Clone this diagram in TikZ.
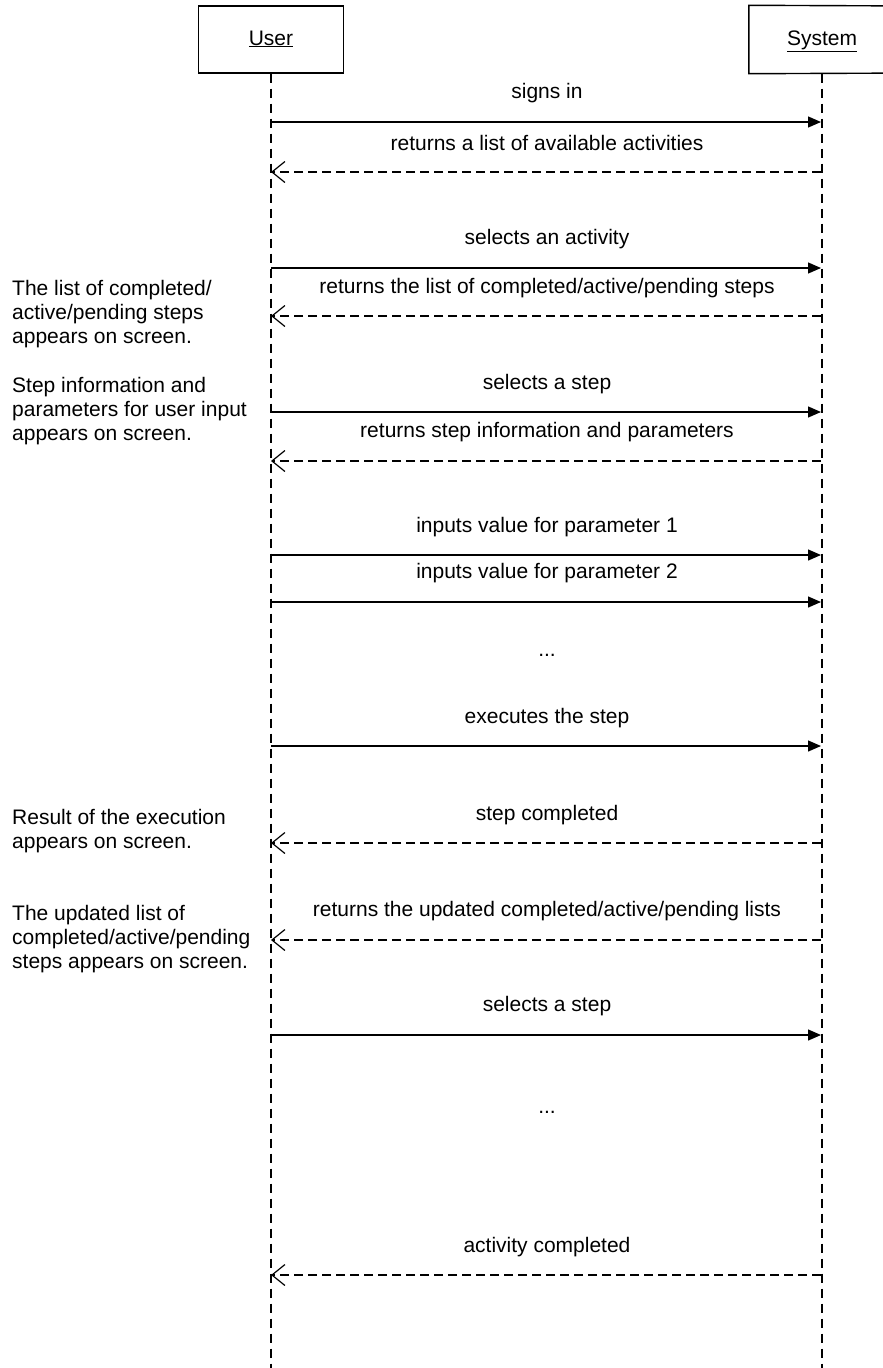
\documentclass[tikz,border=0pt]{standalone}
\usepackage{fontspec}
\setmainfont{Liberation Sans}
\usetikzlibrary{arrows.meta}
\begin{document}
\begin{tikzpicture}[x=1pt,y=-1pt,
  every node/.style={font=\fontsize{21}{24}\selectfont},
  actor/.style={line width=1.4pt,minimum width=145pt,minimum height=67pt,inner sep=0pt,
    text height=15pt,text depth=4pt},
  lifeline/.style={line width=1.2pt,dash pattern=on 9pt off 6pt},
  call/.style={line width=1.3pt,-{Triangle[length=13pt,width=11pt]}},
  reply/.style={line width=1.2pt,dash pattern=on 9pt off 5pt,-{Straight Barb[length=13pt,width=21pt,line width=1.2pt]}},
  msg/.style={anchor=center,inner sep=0pt},
  note/.style={anchor=north west,align=left,inner sep=0pt}]
\useasboundingbox (0,0) rectangle (883,1368);
\fill[white] (-5,-5) rectangle (900,1375);

% participants
\node[actor,draw] (user) at (271,39.5) {\underline{User}};
\node[actor] (sys) at (822,39.5) {\underline{System}};
% the system box runs on past the right margin
\coordinate (sysTop) at (920,6);
\coordinate (sysBot) at (920,73);
\draw[line width=1.4pt] (sysTop) -- (sys.north west) -- (sys.south west) -- (sysBot);
\coordinate (userEnd) at (271,1368);
\coordinate (sysEnd) at (822,1368);
\draw[lifeline] (user.south) -- (userEnd);
\draw[lifeline] (sys.south) -- (sysEnd);

% anchor points on the lifelines, one pair per message
\foreach \n/\y in {a/122,b/172,c/268,d/316,e/412,f/461,g/555,h/602,i/746,j/843,k/940,l/1035,m/1275}{
  \coordinate (u\n) at (271,\y);
  \coordinate (s\n) at (821,\y);
}

% messages
\draw[call] (ua) -- (sa);
\node[msg] (la) at (547,93) {signs in};
\draw[reply] (sb) -- (ub);
\node[msg] (lb) at (547,143) {returns a list of available activities};

\draw[call] (uc) -- (sc);
\node[msg] (lc) at (547,239) {selects an activity};
\draw[reply] (sd) -- (ud);
\node[msg] (ld) at (547,288) {returns the list of completed/active/pending steps};

\draw[call] (ue) -- (se);
\node[msg] (le) at (547,384) {selects a step};
\draw[reply] (sf) -- (uf);
\node[msg] (lf) at (547,432) {returns step information and parameters};

\draw[call] (ug) -- (sg);
\node[msg] (lg) at (547,527) {inputs value for parameter 1};
\draw[call] (uh) -- (sh);
\node[msg] (lh) at (547,573) {inputs value for parameter 2};

\node[msg] (dots1) at (547,655) {...};

\draw[call] (ui) -- (si);
\node[msg] (li) at (547,718) {executes the step};

\draw[reply] (sj) -- (uj);
\node[msg] (lj) at (547,815) {step completed};
\draw[reply] (sk) -- (uk);
\node[msg] (lk) at (547,911) {returns the updated completed/active/pending lists};

\draw[call] (ul) -- (sl);
\node[msg] (ll) at (547,1006) {selects a step};

\node[msg] (dots2) at (547,1112) {...};

\draw[reply] (sm) -- (um);
\node[msg] (lm) at (547,1247) {activity completed};

% notes beside the user lifeline
\node[note] (n1) at (12,280) {The list of completed/\\active/pending steps\\appears on screen.};
\node[note] (n2) at (12,377) {Step information and\\parameters for user input\\appears on screen.};
\node[note] (n3) at (12,809) {Result of the execution\\appears on screen.};
\node[note] (n4) at (12,905) {The updated list of\\completed/active/pending\\steps appears on screen.};
\end{tikzpicture}
\end{document}
